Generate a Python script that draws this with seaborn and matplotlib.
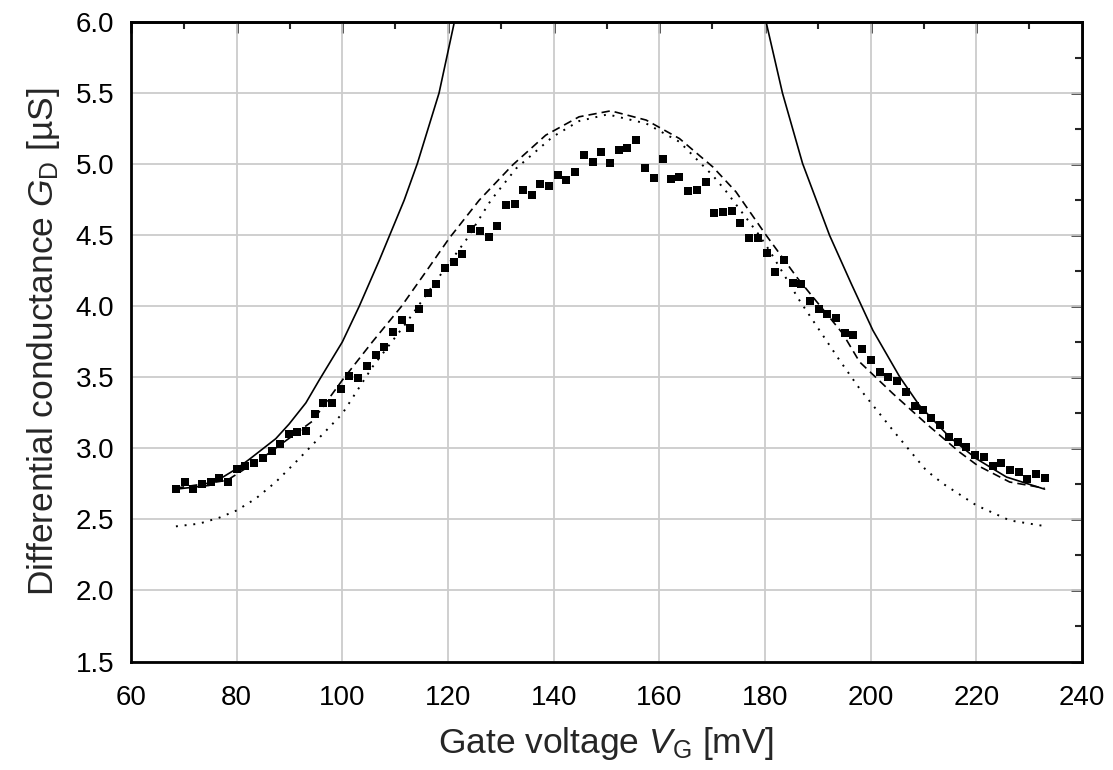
import numpy as np
import pandas as pd
import matplotlib
matplotlib.use('Agg')
import matplotlib.pyplot as plt
from matplotlib.ticker import MultipleLocator
import seaborn as sns

# measured differential conductance
gate_v = [68.5, 70.2, 71.8, 73.4, 75.1, 76.7, 78.4, 80.0, 81.6, 83.3,
          84.9, 86.6, 88.2, 89.9, 91.5, 93.1, 94.8, 96.4, 98.1, 99.7,
          101.3, 103.0, 104.6, 106.3, 107.9, 109.6, 111.2, 112.8, 114.5, 116.2,
          117.8, 119.5, 121.1, 122.7, 124.4, 126.0, 127.7, 129.3, 131.0, 132.6,
          134.2, 135.9, 137.5, 139.2, 140.8, 142.4, 144.1, 145.8, 147.4, 149.0,
          150.7, 152.3, 153.9, 155.6, 157.3, 158.9, 160.6, 162.2, 163.8, 165.5,
          167.1, 168.8, 170.4, 172.0, 173.7, 175.3, 176.9, 178.6, 180.3, 181.9,
          183.6, 185.2, 186.9, 188.5, 190.2, 191.8, 193.5, 195.1, 196.7, 198.4,
          200.0, 201.7, 203.3, 204.9, 206.6, 208.3, 209.9, 211.5, 213.2, 214.9,
          216.5, 218.1, 219.8, 221.4, 223.1, 224.7, 226.3, 228.0, 229.6, 231.3,
          232.9]
g_meas = [2.713, 2.763, 2.713, 2.749, 2.763, 2.794, 2.760, 2.852, 2.878, 2.899,
          2.930, 2.979, 3.033, 3.099, 3.115, 3.125, 3.239, 3.320, 3.320, 3.415,
          3.510, 3.498, 3.577, 3.655, 3.714, 3.820, 3.900, 3.847, 3.979, 4.094,
          4.157, 4.272, 4.308, 4.371, 4.547, 4.528, 4.488, 4.566, 4.709, 4.716,
          4.815, 4.782, 4.861, 4.843, 4.920, 4.887, 4.946, 5.063, 5.014, 5.087,
          5.007, 5.096, 5.110, 5.169, 4.970, 4.904, 5.033, 4.894, 4.906, 4.810,
          4.819, 4.875, 4.653, 4.660, 4.669, 4.585, 4.481, 4.479, 4.375, 4.242,
          4.326, 4.162, 4.153, 4.038, 3.981, 3.948, 3.915, 3.812, 3.796, 3.697,
          3.624, 3.537, 3.500, 3.476, 3.394, 3.296, 3.268, 3.211, 3.164, 3.080,
          3.042, 3.007, 2.951, 2.937, 2.873, 2.899, 2.850, 2.833, 2.782, 2.817,
          2.789]

# model curves
solid_left_v = [68.5, 74.8, 80.0, 82.3, 87.4, 89.9, 93.1, 95.6, 100.0, 103.2,
                107.0, 111.7, 114.2, 118.3, 121.2]
solid_left_g = [2.713, 2.739, 2.857, 2.92, 3.068, 3.17, 3.32, 3.479, 3.749, 4.0,
                4.324, 4.746, 5.005, 5.50, 6.0]
solid_right_v = [180.2, 183.3, 187.1, 192.2, 196.3, 200.4, 205.5, 209.2, 214.9,
                 220.0, 225.7, 232.9]
solid_right_g = [6.0, 5.50, 5.005, 4.50, 4.16, 3.831, 3.502, 3.303, 3.08,
                 2.927, 2.798, 2.713]

dashed_v = [68.5, 78.2, 85.5, 94.3, 100.0, 105.7, 111.1, 115.8, 120.2, 125.9,
            132.2, 138.5, 144.8, 150.8, 157.5, 163.8, 170.1, 174.5, 180.2,
            186.2, 194.7, 197.9, 204.2, 210.5, 216.8, 220.2, 226.3, 232.9]
dashed_g = [2.72, 2.775, 2.95, 3.19, 3.48, 3.75, 3.995, 4.242, 4.477, 4.746,
            4.993, 5.204, 5.333, 5.375, 5.31, 5.18, 4.981, 4.805, 4.50,
            4.195, 3.808, 3.608, 3.385, 3.174, 2.974, 2.88, 2.763, 2.72]

dotted_v = [68.5, 72.9, 76.7, 80.0, 83.6, 87.4, 91.2, 95.0, 100.0, 105.7,
            112.0, 118.3, 123.4, 128.1, 132.9, 139.8, 144.8, 150.2, 157.5,
            163.8, 170.1, 172.6, 178.9, 180.8, 186.5, 194.1, 197.9, 204.2,
            210.5, 213.7, 220.0, 226.3, 232.9]
dotted_g = [2.451, 2.47, 2.512, 2.563, 2.646, 2.763, 2.904, 3.05, 3.244, 3.573,
            3.878, 4.207, 4.465, 4.745, 4.97, 5.192, 5.303, 5.35, 5.286,
            5.157, 4.92, 4.81, 4.50, 4.394, 4.042, 3.62, 3.42, 3.127,
            2.845, 2.751, 2.599, 2.493, 2.453]

sns.set_theme(style='white')
plt.rcParams['font.family'] = ['Liberation Sans', 'DejaVu Sans']
plt.rcParams['mathtext.fontset'] = 'custom'
plt.rcParams['mathtext.rm'] = 'Liberation Sans'
plt.rcParams['mathtext.it'] = 'Liberation Sans:italic'

fig = plt.figure(figsize=(11.13, 7.70), dpi=100)
ax = fig.add_axes([0.1177, 0.1409, 0.8545, 0.8305])

sns.lineplot(x=solid_left_v, y=solid_left_g, ax=ax, color='black', lw=1.2,
             estimator=None, sort=False)
sns.lineplot(x=solid_right_v, y=solid_right_g, ax=ax, color='black', lw=1.2,
             estimator=None, sort=False)
sns.lineplot(x=dashed_v, y=dashed_g, ax=ax, color='black', lw=1.2,
             linestyle=(0, (5, 3)), estimator=None, sort=False)
sns.lineplot(x=dotted_v, y=dotted_g, ax=ax, color='black', lw=1.4,
             linestyle=(0, (1, 3.5)), estimator=None, sort=False)

df = pd.DataFrame({'V': gate_v, 'G': g_meas})
sns.scatterplot(data=df, x='V', y='G', ax=ax, marker='s', s=32, color='black',
                linewidth=0, zorder=5)

ax.set_xlim(60, 240)
ax.set_ylim(1.5, 6.0)
ax.xaxis.set_major_locator(MultipleLocator(20))
ax.xaxis.set_minor_locator(MultipleLocator(10))
ax.yaxis.set_major_locator(MultipleLocator(0.5))
ax.yaxis.set_minor_locator(MultipleLocator(0.25))
ax.yaxis.set_major_formatter(matplotlib.ticker.FormatStrFormatter('%.1f'))

ax.grid(True, which='major', color='#cccccc', lw=1.3)
ax.set_axisbelow(True)

for sp in ax.spines.values():
    sp.set_linewidth(2)
    sp.set_color('black')

ax.tick_params(which='major', direction='out', length=8, width=1.8,
               labelsize=20, colors='black')
ax.tick_params(which='minor', direction='out', length=5, width=1.5)
ax.tick_params(axis='x', which='major', pad=9)
ax.tick_params(axis='y', which='major', pad=4)

top = ax.secondary_xaxis('top')
top.xaxis.set_major_locator(MultipleLocator(20))
top.xaxis.set_minor_locator(MultipleLocator(10))
top.tick_params(which='major', direction='in', length=8, width=1.8, labeltop=False)
top.tick_params(which='minor', direction='in', length=5, width=1.5)
right = ax.secondary_yaxis('right')
right.yaxis.set_major_locator(MultipleLocator(0.5))
right.yaxis.set_minor_locator(MultipleLocator(0.25))
right.tick_params(which='major', direction='in', length=8, width=1.8, labelright=False)
right.tick_params(which='minor', direction='in', length=5, width=1.5)
for s in (top, right):
    for sp in s.spines.values():
        sp.set_linewidth(2)

ax.set_xlabel(r'Gate voltage $V_\mathrm{G}$ [mV]', fontsize=25.5, labelpad=10)
ax.set_ylabel(r'Differential conductance $G_\mathrm{D}$ [µS]', fontsize=25.5, labelpad=10)

fig.savefig('out.png', dpi=100)
